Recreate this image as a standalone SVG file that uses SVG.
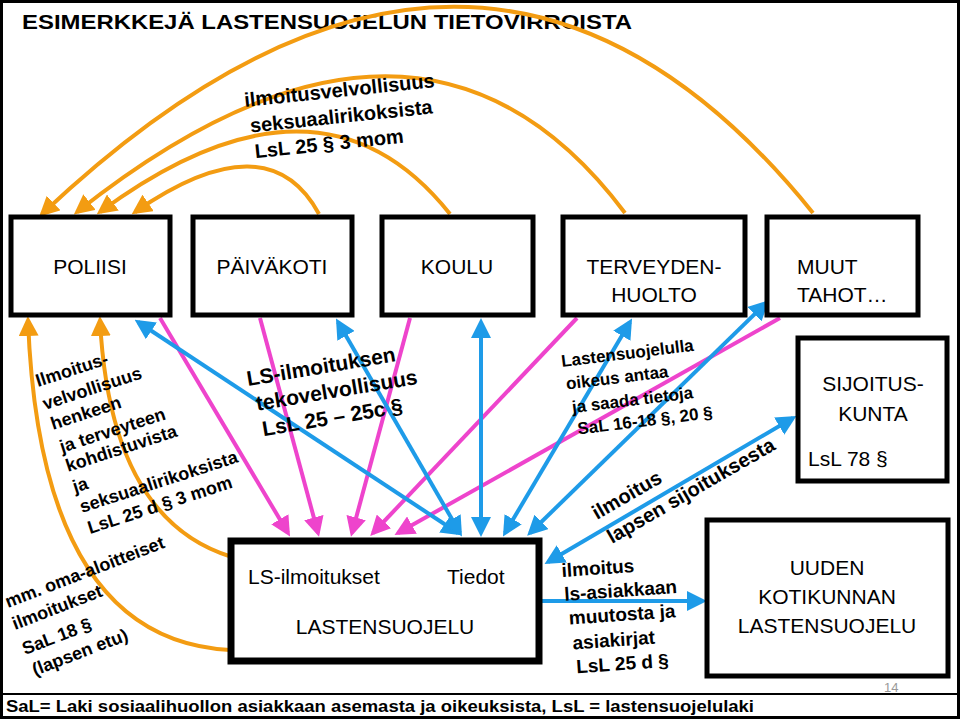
<svg xmlns="http://www.w3.org/2000/svg" width="960" height="719" viewBox="0 0 960 719">
<style>
.box{fill:#fff;stroke:#000;stroke-width:5}
.t{font-family:"Liberation Sans",Arial,sans-serif;fill:#000}
.bt{font-family:"Liberation Sans",Arial,sans-serif;font-size:21px;text-anchor:middle}
.lb{font-family:"Liberation Sans",Arial,sans-serif;font-weight:bold;font-size:18px}
.o{fill:none;stroke:#F39C12;stroke-width:4}
.p{fill:none;stroke:#EE44CC;stroke-width:4}
.b{fill:none;stroke:#1E9BE8;stroke-width:4}
</style>
<defs>
<marker id="mo" markerWidth="5" markerHeight="5" refX="4" refY="2.5" orient="auto" markerUnits="strokeWidth"><path d="M0,0L5,2.5L0,5z" fill="#F39C12"/></marker>
<marker id="mp" markerWidth="5" markerHeight="5" refX="4" refY="2.5" orient="auto" markerUnits="strokeWidth"><path d="M0,0L5,2.5L0,5z" fill="#EE44CC"/></marker>
<marker id="mb" markerWidth="5" markerHeight="5" refX="4" refY="2.5" orient="auto-start-reverse" markerUnits="strokeWidth"><path d="M0,0L5,2.5L0,5z" fill="#1E9BE8"/></marker>
</defs>
<rect x="1.5" y="1.5" width="957" height="716" fill="#fff" stroke="#000" stroke-width="3"/>
<text class="t" x="22" y="29" font-size="21" font-weight="bold" textLength="610" lengthAdjust="spacingAndGlyphs">ESIMERKKEJÄ LASTENSUOJELUN TIETOVIRROISTA</text>

<g id="connectors">
<path class="o" d="M319,214 Q268,120 135,212" marker-end="url(#mo)"/>
<path class="o" d="M450,214 Q320,50 100,212" marker-end="url(#mo)"/>
<path class="o" d="M625,213 Q420,-60 77,212" marker-end="url(#mo)"/>
<path class="o" d="M813,213 Q480,-200 42,214" marker-end="url(#mo)"/>
<path class="o" d="M232,557 Q110,520 100,320" marker-end="url(#mo)"/>
<path class="o" d="M230,650 Q40,640 28,320" marker-end="url(#mo)"/>
<path class="p" d="M160,318 L288,533" marker-end="url(#mp)"/>
<path class="p" d="M260,318 L318,533" marker-end="url(#mp)"/>
<path class="p" d="M410,318 L352,533" marker-end="url(#mp)"/>
<path class="p" d="M577,318 L373,533" marker-end="url(#mp)"/>
<path class="p" d="M780,318 L398,533" marker-end="url(#mp)"/>
<path class="b" d="M138,322 L458,533" marker-start="url(#mb)" marker-end="url(#mb)"/>
<path class="b" d="M338,322 L460,533" marker-start="url(#mb)" marker-end="url(#mb)"/>
<path class="b" d="M481,322 L481,533" marker-start="url(#mb)" marker-end="url(#mb)"/>
<path class="b" d="M630,322 L505,533" marker-start="url(#mb)" marker-end="url(#mb)"/>
<path class="b" d="M766,303 L530,533" marker-start="url(#mb)" marker-end="url(#mb)"/>
<path class="b" d="M548,562 L793,418" marker-start="url(#mb)" marker-end="url(#mb)"/>
<path class="b" d="M540,601 L703,601" marker-end="url(#mb)"/>
</g>

<g id="poliisi"><rect class="box" x="11" y="217" width="159" height="98"/><text class="bt" x="90" y="274">POLIISI</text></g>
<g id="paivakoti"><rect class="box" x="193" y="217" width="159" height="98"/><text class="bt" x="272" y="274">PÄIVÄKOTI</text></g>
<g id="koulu"><rect class="box" x="382" y="217" width="151" height="98"/><text class="bt" x="457" y="274">KOULU</text></g>
<g id="terveydenhuolto"><rect class="box" x="563" y="217" width="182" height="98"/><text class="bt" x="654" y="274">TERVEYDEN-</text><text class="bt" x="654" y="302">HUOLTO</text></g>
<g id="muut"><rect class="box" x="767" y="217" width="151" height="98"/><text class="t" x="797" y="274" font-size="21">MUUT</text><text class="t" x="797" y="302" font-size="21">TAHOT…</text></g>
<g id="lastensuojelu"><rect x="231" y="541" width="308" height="120" fill="#fff" stroke="#000" stroke-width="7"/><text class="t" x="248" y="584" font-size="21">LS-ilmoitukset</text><text class="t" x="447" y="584" font-size="21">Tiedot</text><text class="bt" x="385" y="634">LASTENSUOJELU</text></g>
<g id="sijoituskunta"><rect class="box" x="798" y="338" width="149" height="143"/><text class="bt" x="873" y="391">SIJOITUS-</text><text class="bt" x="873" y="421">KUNTA</text><text class="t" x="808" y="466" font-size="21">LsL 78 §</text></g>
<g id="uusi"><rect class="box" x="707" y="520" width="241" height="156"/><text class="bt" x="827" y="575">UUDEN</text><text class="bt" x="827" y="604">KOTIKUNNAN</text><text class="bt" x="827" y="633">LASTENSUOJELU</text></g>

<g id="labels" class="lb">
<g transform="rotate(-6 245 107)" font-size="20"><text x="245" y="107">ilmoitusvelvollisuus</text><text x="248" y="133">seksuaalirikoksista</text><text x="250" y="159">LsL 25 § 3 mom</text></g>
<text x="38" y="387" transform="rotate(-18 38 387)">Ilmoitus-</text>
<text x="45" y="410" transform="rotate(-18 45 410)">velvollisuus</text>
<text x="53" y="430" transform="rotate(-18 53 430)">henkeen</text>
<text x="62" y="453" transform="rotate(-18 62 453)">ja terveyteen</text>
<text x="68" y="472" transform="rotate(-18 68 472)">kohdistuvista</text>
<text x="75" y="493" transform="rotate(-18 75 493)">ja</text>
<text x="82" y="513" transform="rotate(-18 82 513)">seksuaalirikoksista</text>
<text x="90" y="534" transform="rotate(-18 90 534)">LsL 25 d § 3 mom</text>
<text x="8" y="608" transform="rotate(-21 8 608)">mm. oma-aloitteiset</text>
<text x="15" y="630" transform="rotate(-21 15 630)">ilmoitukset</text>
<text x="25" y="655" transform="rotate(-21 25 655)">SaL 18 §</text>
<text x="35" y="676" transform="rotate(-21 35 676)">(lapsen etu)</text>
<g transform="rotate(-9.5 248 386)" font-size="21"><text x="248" y="386">LS-ilmoituksen</text><text x="253" y="412">tekovelvollisuus</text><text x="255" y="438">LsL 25 – 25c §</text></g>
<g transform="rotate(-7 562 367)" font-size="17"><text x="562" y="367">Lastensuojelulla</text><text x="564" y="390">oikeus antaa</text><text x="567" y="414">ja saada tietoja</text><text x="570" y="436">SaL 16-18 §, 20 §</text></g>
<text x="597" y="520" font-size="20" transform="rotate(-30 597 520)">ilmoitus</text>
<text x="612" y="544" font-size="20" transform="rotate(-30 612 544)">lapsen sijoituksesta</text>
<g transform="rotate(-4 562 577)" font-size="19"><text x="562" y="577">ilmoitus</text><text x="563" y="601">ls-asiakkaan</text><text x="566" y="625">muutosta ja</text><text x="568" y="650">asiakirjat</text><text x="570" y="674">LsL 25 d §</text></g>
</g>
<text x="884" y="692" font-family="Liberation Sans, sans-serif" font-size="13" fill="#999">14</text>
<line x1="0" y1="694" x2="960" y2="694" stroke="#000" stroke-width="2"/>
<text class="t" x="6" y="712" font-size="16" font-weight="bold" textLength="748" lengthAdjust="spacingAndGlyphs">SaL= Laki sosiaalihuollon asiakkaan asemasta ja oikeuksista, LsL = lastensuojelulaki</text>
</svg>
